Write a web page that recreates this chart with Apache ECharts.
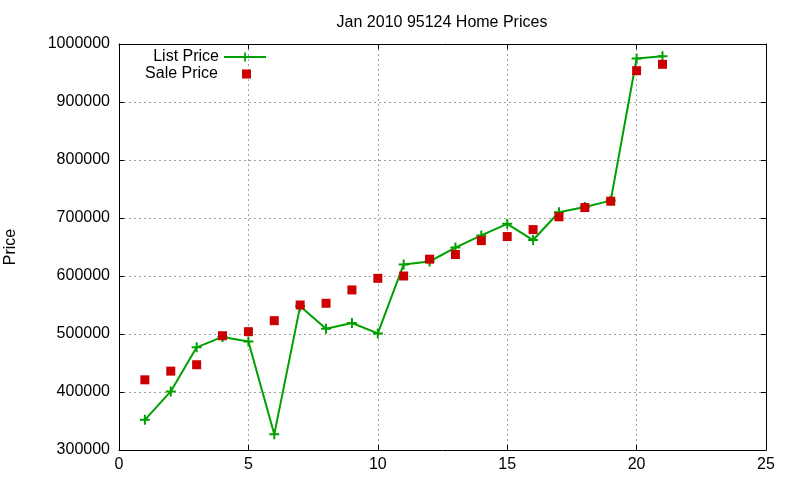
<!DOCTYPE html>
<html>
<head>
<meta charset="utf-8">
<script src="https://cdn.jsdelivr.net/npm/echarts@6/dist/echarts.min.js"></script>
<style>html,body{margin:0;padding:0;background:#fff}#c{width:800px;height:480px}</style>
</head>
<body>
<div id="c"></div>
<script>
const titleText = 'Jan 2010 95124 Home Prices';
const xValues = [1,2,3,4,5,6,7,8,9,10,11,12,13,14,15,16,17,18,19,20,21];
const listPrice = [352000,401000,477000,495000,487000,327000,548000,509000,519000,501000,620000,625000,649000,670000,690000,662000,710000,719000,730000,975000,979000];
const salePrice = [421000,436000,447000,497000,504000,523000,550000,553000,576000,596000,600000,629000,637000,661000,668000,680000,702000,718000,729000,954000,965000];
const xTicks = {min:0, max:25, interval:5};
const yTicks = {min:300000, max:1000000, interval:100000};

const FONT = 'Liberation Sans, Arial, sans-serif';
const chart = echarts.init(document.getElementById('c'), null, {renderer:'canvas'});
const plus = 'path://M4,0H6V4H10V6H6V10H4V6H0V4H4Z';
const gridLine = {show:true, lineStyle:{color:'#a0a0a0', type:[2,3], width:1}};
const axLine = {show:true, onZero:false, lineStyle:{color:'#000', width:1}};
const tick = {show:true, inside:true, length:5, lineStyle:{color:'#000'}};
chart.setOption({
  animation:false,
  backgroundColor:'#fff',
  title:{text:titleText, left:437, textAlign:'center', top:10,
    textStyle:{fontFamily:FONT, fontSize:16, fontWeight:'normal', color:'#000'}},
  grid:{left:119, right:34, top:44, bottom:30, containLabel:false, outerBoundsMode:'none'},
  legend:[
    {data:['List Price'], right:533, top:49, orient:'vertical', align:'right', padding:0,
     itemWidth:42, itemHeight:11,
     textStyle:{fontFamily:FONT, fontSize:16, color:'#000'}},
    {data:['Sale Price'], right:549, top:66, orient:'vertical', align:'right', padding:0,
     itemWidth:9, itemHeight:9,
     textStyle:{fontFamily:FONT, fontSize:16, color:'#000', padding:[0,19,0,0]}}
  ],
  xAxis:[
    {type:'value', min:xTicks.min, max:xTicks.max, interval:xTicks.interval, position:'bottom',
     axisLine:axLine, axisTick:tick, splitLine:gridLine,
     axisLabel:{margin:7, fontFamily:FONT, fontSize:16, color:'#000'}},
    {type:'value', min:xTicks.min, max:xTicks.max, interval:xTicks.interval, position:'top',
     axisLine:axLine, axisTick:tick, splitLine:{show:false}, axisLabel:{show:false}}
  ],
  yAxis:[
    {type:'value', min:yTicks.min, max:yTicks.max, interval:yTicks.interval, position:'left',
     name:'Price', nameLocation:'middle', nameGap:100, nameRotate:90,
     nameTextStyle:{fontFamily:FONT, fontSize:16, color:'#000'},
     axisLine:axLine, axisTick:tick, splitLine:gridLine,
     axisLabel:{margin:9, fontFamily:FONT, fontSize:16, color:'#000', formatter:v=>String(v)}},
    {type:'value', min:yTicks.min, max:yTicks.max, interval:yTicks.interval, position:'right',
     axisLine:axLine, axisTick:tick, splitLine:{show:false}, axisLabel:{show:false}}
  ],
  series:[
    {name:'List Price', type:'line', data:xValues.map((x,i)=>[x,listPrice[i]]),
     symbol:plus, symbolSize:10, showAllSymbol:true,
     lineStyle:{color:'#00a000', width:2}, itemStyle:{color:'#00a000', opacity:1}, z:2},
    {name:'Sale Price', type:'scatter', data:xValues.map((x,i)=>[x,salePrice[i]]),
     symbol:'rect', symbolSize:9, itemStyle:{color:'#cc0000', opacity:1}, z:3}
  ]
});
</script>
</body>
</html>
